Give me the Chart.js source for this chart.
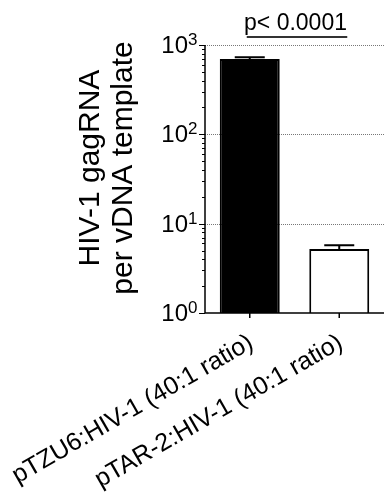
<!DOCTYPE html>
<html><head><meta charset="utf-8">
<script src="https://cdn.jsdelivr.net/npm/chart.js@4.4.1/dist/chart.umd.min.js"></script>
<style>html,body{margin:0;padding:0;background:#fff;}canvas{display:block;}</style>
</head><body>
<canvas id="c" width="384" height="494"></canvas>
<script>
const categories = ['pTZU6:HIV-1 (40:1 ratio)', 'pTAR-2:HIV-1 (40:1 ratio)'];
const means = [697, 5.2];
const errUpper = [728, 5.75];
const yTickValues = [1, 10, 100, 1000];
const yTickBase = ['10', '10', '10', '10'];
const yTickExp = ['0', '1', '2', '3'];
const yTitle = ['HIV-1 gagRNA', 'per vDNA template'];
const pValueLabel = 'p< 0.0001';

const FONT = '"Liberation Sans", Arial, Helvetica, sans-serif';

const decor = {
  id: 'decor',
  beforeDatasetsDraw(chart) {
    const {ctx, chartArea: a, scales: {y}} = chart;
    ctx.save();
    ctx.strokeStyle = '#777';
    ctx.lineWidth = 1;
    ctx.setLineDash([1, 1]);
    yTickValues.forEach(v => {
      if (v === yTickValues[0]) return;
      const py = Math.round(y.getPixelForValue(v)) + 0.5;
      ctx.beginPath(); ctx.moveTo(a.left, py); ctx.lineTo(a.right, py); ctx.stroke();
    });
    ctx.restore();
  },
  afterDatasetsDraw(chart) {
    const {ctx, chartArea: a, scales: {x, y}} = chart;
    const meta = chart.getDatasetMeta(0);
    ctx.save();
    // error bars
    ctx.strokeStyle = '#000';
    ctx.lineWidth = 2;
    meta.data.forEach((bar, i) => {
      const yt = y.getPixelForValue(errUpper[i]);
      const yb = y.getPixelForValue(means[i]);
      ctx.beginPath();
      ctx.moveTo(bar.x, yb); ctx.lineTo(bar.x, yt);
      ctx.moveTo(bar.x - 15, yt); ctx.lineTo(bar.x + 15, yt);
      ctx.stroke();
    });
    // axes
    ctx.lineWidth = 1.5;
    ctx.beginPath();
    ctx.moveTo(a.left, a.top); ctx.lineTo(a.left, a.bottom);
    ctx.moveTo(a.left, a.bottom); ctx.lineTo(a.right, a.bottom);
    ctx.stroke();
    // y ticks (major + minor)
    ctx.lineWidth = 1;
    for (let d = 0; d < yTickValues.length; d++) {
      const base = yTickValues[d];
      const py = Math.round(y.getPixelForValue(base)) + 0.5;
      ctx.beginPath(); ctx.moveTo(a.left - 6, py); ctx.lineTo(a.left, py); ctx.stroke();
      if (d < yTickValues.length - 1) {
        for (let m = 2; m <= 9; m++) {
          const my = Math.round(y.getPixelForValue(base * m)) + 0.5;
          ctx.beginPath(); ctx.moveTo(a.left - 3, my); ctx.lineTo(a.left, my); ctx.stroke();
        }
      }
    }
    // x ticks
    ctx.lineWidth = 1.5;
    categories.forEach((c, i) => {
      const px = x.getPixelForValue(i);
      ctx.beginPath(); ctx.moveTo(px, a.bottom); ctx.lineTo(px, a.bottom + 5); ctx.stroke();
    });
    // y tick labels
    ctx.fillStyle = '#000';
    yTickValues.forEach((v, i) => {
      const py = y.getPixelForValue(v);
      ctx.font = '24px ' + FONT;
      ctx.textAlign = 'right'; ctx.textBaseline = 'alphabetic';
      ctx.fillText(yTickBase[i], a.left - 17, py + 8);
      ctx.font = '17px ' + FONT;
      ctx.textAlign = 'left';
      ctx.fillText(yTickExp[i], a.left - 17, py);
    });
    // x labels rotated
    ctx.font = '25px ' + FONT;
    categories.forEach((c, i) => {
      const px = x.getPixelForValue(i);
      ctx.save();
      ctx.translate(px + 5, a.bottom + 34);
      ctx.rotate(-30 * Math.PI / 180);
      ctx.textAlign = 'right'; ctx.textBaseline = 'alphabetic';
      ctx.fillText(c, 0, 0);
      ctx.restore();
    });
    // y title
    ctx.font = '30px ' + FONT;
    const cy = 168;
    [99, 132].forEach((bx, i) => {
      ctx.save();
      ctx.translate(bx, cy);
      ctx.rotate(-Math.PI / 2);
      ctx.textAlign = 'center'; ctx.textBaseline = 'alphabetic';
      ctx.fillText(yTitle[i], 0, 0);
      ctx.restore();
    });
    // p-value annotation
    const x0 = x.getPixelForValue(0), x1 = x.getPixelForValue(1);
    const mid = (x0 + x1) / 2;
    ctx.font = '23px ' + FONT;
    ctx.textAlign = 'center'; ctx.textBaseline = 'alphabetic';
    ctx.fillText(pValueLabel, mid + 1, 30);
    ctx.strokeStyle = '#333';
    ctx.lineWidth = 2;
    ctx.beginPath(); ctx.moveTo(x0 - 3, 37); ctx.lineTo(x1 + 8, 37); ctx.stroke();
    ctx.restore();
  }
};

new Chart(document.getElementById('c'), {
  type: 'bar',
  data: {
    labels: categories,
    datasets: [{
      data: means,
      backgroundColor: ['#000', '#fff'],
      borderColor: '#000',
      borderWidth: 2,
      barPercentage: 0.67,
      categoryPercentage: 1
    }]
  },
  options: {
    responsive: false,
    animation: false,
    plugins: { legend: { display: false }, tooltip: { enabled: false } },
    layout: { padding: { top: 45, right: 0, left: 0, bottom: 0 } },
    scales: {
      x: {
        ticks: { display: false },
        grid: { display: false },
        border: { display: false },
        afterFit(s) { s.height = 181; }
      },
      y: {
        type: 'logarithmic',
        min: 1, max: 1000,
        ticks: { display: false },
        grid: { display: false },
        border: { display: false },
        afterFit(s) { s.width = 205; }
      }
    }
  },
  plugins: [decor]
});
</script>
</body></html>
